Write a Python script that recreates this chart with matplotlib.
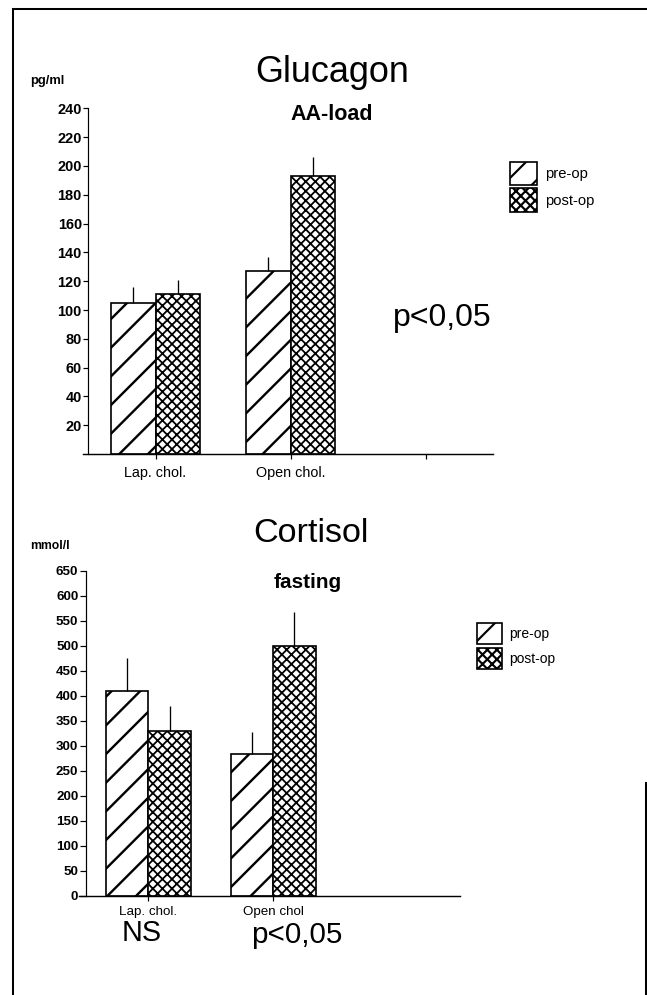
import matplotlib
matplotlib.use('Agg')
import matplotlib.pyplot as plt
from matplotlib.patches import Patch
from matplotlib.lines import Line2D

plt.rcParams['font.family'] = 'Liberation Sans'
plt.rcParams['hatch.linewidth'] = 0.9
plt.rcParams['hatch.color'] = 'black'

# data
groups = ['Lap. chol.', 'Open chol.']
gluc_pre = [105, 127]
gluc_pre_err = [11, 10]
gluc_post = [111, 193]
gluc_post_err = [10, 13]
gluc_ticks = [20, 40, 60, 80, 100, 120, 140, 160, 180, 200, 220, 240]

cort_groups = ['Lap. chol.', 'Open chol']
cort_pre = [410, 283]
cort_pre_err = [65, 44]
cort_post = [330, 500]
cort_post_err = [50, 68]
cort_ticks = list(range(0, 651, 50))

W, H = 647, 995
DPI = 172
HATCH_PRE = '//'
HATCH_POST = 'xxxxxx'


def fx(x):
    return x / W


def fy(y):
    return 1 - y / H


def hatch_lw(patches, lw):
    # per-patch hatch width where the matplotlib version supports it
    for p in patches:
        if hasattr(p, 'set_hatch_linewidth'):
            p.set_hatch_linewidth(lw)


fig = plt.figure(figsize=(W / DPI, H / DPI), dpi=DPI)

# page frame (scanned sheet border)
fig.add_artist(Line2D([fx(13), fx(13)], [fy(995), fy(9)], color='black', lw=0.85))
fig.add_artist(Line2D([fx(13), fx(647)], [fy(9), fy(9)], color='black', lw=0.85))
fig.add_artist(Line2D([fx(645.5), fx(645.5)], [fy(783), fy(995)], color='black', lw=0.85))


def draw_panel(ax, pre, pre_err, post, post_err, width, labels, ticks, ylim,
               extra_xticks, spine_lo, tick_fs, xlab_fs, ylen, ypad, xpad):
    xs = [1, 2]
    b1 = ax.bar(xs, pre, width=-width, align='edge', facecolor='white', edgecolor='black',
                hatch=HATCH_PRE, linewidth=0.7)
    b2 = ax.bar(xs, post, width=width, align='edge', facecolor='white', edgecolor='black',
                hatch=HATCH_POST, linewidth=0.7)
    hatch_lw(b1, 1.0)
    hatch_lw(b2, 0.75)
    pre_c = [x - width / 2 for x in xs]
    post_c = [x + width / 2 for x in xs]
    ax.errorbar(pre_c, pre, yerr=[[0, 0], pre_err], fmt='none', ecolor='black',
                elinewidth=0.55, capsize=0)
    ax.errorbar(post_c, post, yerr=[[0, 0], post_err], fmt='none', ecolor='black',
                elinewidth=0.55, capsize=0)
    ax.set_xlim(0.5, 3.5)
    ax.set_ylim(*ylim)
    for s in ['top', 'right']:
        ax.spines[s].set_visible(False)
    ax.spines['left'].set_linewidth(0.5)
    ax.spines['bottom'].set_linewidth(0.6)
    ax.spines['bottom'].set_bounds(spine_lo, 3.5)
    ax.set_yticks(ticks)
    ax.set_yticklabels([str(t) for t in ticks], fontsize=tick_fs, fontweight='bold')
    ax.set_xticks(xs + extra_xticks)
    ax.set_xticklabels(labels + [''] * len(extra_xticks), fontsize=xlab_fs)
    ax.tick_params(axis='y', length=ylen, width=0.5, pad=ypad, direction='out')
    ax.tick_params(axis='x', length=2.0, width=0.5, pad=xpad, direction='out')


ax1 = fig.add_axes([fx(88), fy(454.1), (493 - 88) / W, (454.1 - 108.3) / H])
draw_panel(ax1, gluc_pre, gluc_pre_err, gluc_post, gluc_post_err, 0.33,
           groups, gluc_ticks, (0, 240), [3], 0.46, 6.1, 6.0, 2.2, 0.4, 3.0)

ax2 = fig.add_axes([fx(86), fy(895.7), (460.2 - 86) / W, (895.7 - 570.7) / H])
draw_panel(ax2, cort_pre, cort_pre_err, cort_post, cort_post_err, 0.34,
           cort_groups, cort_ticks, (0, 650), [], 0.44, 5.6, 5.6, 2.5, 0.7, 2.5)

# titles and annotations
fig.text(fx(332), fy(73), 'Glucagon', fontsize=15.1, ha='center', va='center')
fig.text(fx(331.5), fy(115), 'AA-load', fontsize=9.0, fontweight='bold', ha='center', va='center')
fig.text(fx(30), fy(81), 'pg/ml', fontsize=5.4, fontweight='bold', ha='left', va='center')
fig.text(fx(442.5), fy(318), 'p<0,05', fontsize=13.4, ha='center', va='center')

fig.text(fx(311), fy(533), 'Cortisol', fontsize=14.3, ha='center', va='center')
fig.text(fx(308), fy(582), 'fasting', fontsize=8.7, fontweight='bold', ha='center', va='center')
fig.text(fx(30), fy(546), 'mmol/l', fontsize=5.1, fontweight='bold', ha='left', va='center')
fig.text(fx(142), fy(933), 'NS', fontsize=12.1, ha='center', va='center')
fig.text(fx(297), fy(935), 'p<0,05', fontsize=12.4, ha='center', va='center')


def legend_handles():
    h = [Patch(facecolor='white', edgecolor='black', hatch=HATCH_PRE, lw=0.7),
         Patch(facecolor='white', edgecolor='black', hatch=HATCH_POST, lw=0.7)]
    hatch_lw(h[:1], 1.0)
    hatch_lw(h[1:], 0.75)
    return h


# legends
fig.legend(handles=legend_handles(), labels=['pre-op', 'post-op'], loc='upper left',
           bbox_to_anchor=(fx(510), fy(162)), bbox_transform=fig.transFigure,
           frameon=False, borderpad=0, borderaxespad=0, fontsize=6.2,
           handlelength=1.82, handleheight=2.05, labelspacing=0.2, handletextpad=0.54)
fig.legend(handles=legend_handles(), labels=['pre-op', 'post-op'], loc='upper left',
           bbox_to_anchor=(fx(476.7), fy(622.7)), bbox_transform=fig.transFigure,
           frameon=False, borderpad=0, borderaxespad=0, fontsize=5.8,
           handlelength=1.8, handleheight=2.0, labelspacing=0.25, handletextpad=0.53)

fig.savefig('out.png', dpi=DPI)
